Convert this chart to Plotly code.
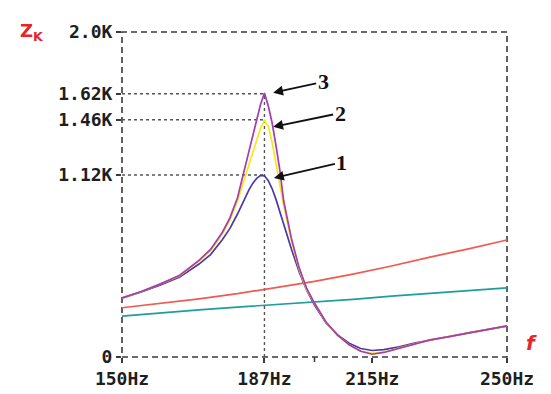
import plotly.graph_objects as go

# ---- data ----
freq = [150, 155, 160, 165, 170, 173, 176, 178, 180, 182, 183, 184, 185, 186, 187,
        188, 189, 190, 191, 192, 193, 194, 196, 198, 200, 203, 206, 209, 212, 215,
        218, 222, 226, 230, 235, 240, 245, 250]
z3 = [363, 403, 450, 503, 595, 662, 765, 855, 980, 1180, 1280, 1370, 1460, 1555, 1625,
      1545, 1440, 1300, 1150, 960, 840, 730, 550, 420, 332, 215, 135, 75, 35, 17,
      28, 55, 82, 105, 125, 148, 170, 191]
z2 = [363, 403, 449, 500, 590, 655, 755, 840, 960, 1110, 1190, 1260, 1340, 1410, 1455,
      1420, 1320, 1200, 1060, 930, 815, 715, 540, 415, 330, 213, 133, 75, 37, 22,
      30, 56, 82, 105, 125, 148, 170, 191]
z1 = [362, 400, 443, 492, 572, 630, 720, 790, 880, 985, 1030, 1070, 1100, 1118, 1115,
      1085, 1035, 970, 890, 810, 735, 665, 525, 410, 320, 210, 135, 85, 52, 40,
      45, 62, 85, 105, 126, 148, 170, 190]

line_freq = [150, 160, 170, 180, 187, 195, 200, 210, 220, 230, 240, 250]
z_red = [303, 330, 358, 390, 415, 445, 465, 510, 560, 615, 665, 720]
z_teal = [252, 272, 290, 307, 318, 330, 335, 355, 375, 393, 410, 425]

x_tickvals = [150, 187, 215, 250]
x_ticktext = ["150Hz", "187Hz", "215Hz", "250Hz"]
x_minor_ticks = [200]
y_tickvals = [0, 1120, 1460, 1620, 2000]
y_ticktext = ["0", "1.12K", "1.46K", "1.62K", "2.0K"]

peak_freq = 187
peak_values = [1120, 1460, 1620]
arrow_labels = ["1", "2", "3"]
arrow_freq = [189.2, 189.0, 189.0]
arrow_vals = [1100, 1415, 1625]
arrow_offsets = [(69, -16), (68, -14), (51, -11)]

fig = go.Figure()
fig.add_trace(go.Scatter(x=line_freq, y=z_red, mode="lines",
                         line=dict(color="#f05a50", width=1.7), showlegend=False))
fig.add_trace(go.Scatter(x=line_freq, y=z_teal, mode="lines",
                         line=dict(color="#1e9e9a", width=1.7), showlegend=False))
fig.add_trace(go.Scatter(x=freq, y=z1, mode="lines",
                         line=dict(color="#4b3aa8", width=1.7), showlegend=False))
fig.add_trace(go.Scatter(x=freq, y=z2, mode="lines",
                         line=dict(color="#f2ea1c", width=1.7), showlegend=False))
fig.add_trace(go.Scatter(x=freq, y=z3, mode="lines",
                         line=dict(color="#a63cae", width=1.7), showlegend=False))

shapes = []
# dashed frame
shapes.append(dict(type="rect", xref="paper", yref="paper", x0=0, x1=1, y0=0, y1=1,
                   line=dict(color="#3a3a3a", width=1.6, dash="6px,4px"), layer="below"))
# unlabeled tick
for t in x_minor_ticks:
    shapes.append(dict(type="line", xref="x", yref="paper", ysizemode="pixel", yanchor=0,
                       x0=t, x1=t, y0=0, y1=-5, line=dict(color="#3a3a3a", width=1.5)))
# dotted guides
for v in peak_values:
    shapes.append(dict(type="line", xref="x", yref="y", x0=150, x1=peak_freq, y0=v, y1=v,
                       line=dict(color="#555555", width=1.4, dash="dot"), layer="below"))
shapes.append(dict(type="line", xref="x", yref="y", x0=peak_freq, x1=peak_freq, y0=0,
                   y1=max(peak_values), line=dict(color="#555555", width=1.4, dash="dot"),
                   layer="below"))

annotations = []
for lab, fx, fv, (dx, dy) in zip(arrow_labels, arrow_freq, arrow_vals, arrow_offsets):
    annotations.append(dict(x=fx, y=fv, xref="x", yref="y", text="<b>%s</b>" % lab,
                            showarrow=True, ax=dx, ay=dy, arrowhead=2, arrowsize=1.1,
                            arrowwidth=1.8, arrowcolor="#111111", standoff=1,
                            font=dict(family="Liberation Serif", size=22, color="#111111")))
annotations.append(dict(xref="paper", yref="paper", x=-0.27, y=1.0, xanchor="left",
                        yanchor="middle", showarrow=False,
                        text="<b>Z<sub>K</sub></b>",
                        font=dict(family="DejaVu Sans", size=18, color="#e8262a")))
annotations.append(dict(xref="paper", yref="paper", x=1.045, y=0.0, xanchor="left",
                        yanchor="bottom", showarrow=False,
                        text="<b><i>f</i></b>",
                        font=dict(family="DejaVu Sans", size=20, color="#e8262a")))

# page body has an 8px default margin, compensate so the plot area lands at
# x 122..507, y 32..357 in the window
fig.update_layout(
    width=551, height=394,
    margin=dict(l=114, r=52, t=24, b=45),
    paper_bgcolor="white", plot_bgcolor="white",
    shapes=shapes, annotations=annotations,
    xaxis=dict(range=[150, 250], tickvals=x_tickvals, ticktext=x_ticktext,
               showgrid=False, zeroline=False, showline=False,
               ticks="outside", ticklen=5, tickwidth=1.5, tickcolor="#3a3a3a",
               tickfont=dict(family="DejaVu Sans Mono", size=18, color="#1e1e1e",
                             weight="bold")),
    yaxis=dict(range=[0, 2000], tickvals=y_tickvals, ticktext=y_ticktext,
               showgrid=False, zeroline=False, showline=False,
               ticks="outside", ticklen=5, tickwidth=1.5, tickcolor="#3a3a3a",
               tickfont=dict(family="DejaVu Sans Mono", size=18, color="#1e1e1e",
                             weight="bold")),
)

fig.write_html("out.html")
